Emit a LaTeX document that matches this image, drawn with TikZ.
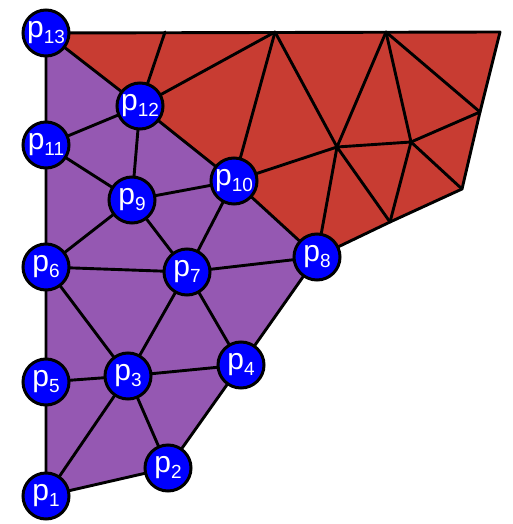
\documentclass[tikz,border=0pt]{standalone}
\usepackage{fontspec}
\setmainfont{Liberation Sans}
\newcommand\plab[1]{p\raisebox{-6pt}{\fontsize{19}{19}\selectfont #1}}
\definecolor{meshpurple}{RGB}{149,88,178}
\definecolor{meshred}{RGB}{200,60,50}
\begin{document}
\begin{tikzpicture}[x=1pt,y=-1pt,
  vtx/.style={circle, fill=blue, draw=black, line width=3pt, minimum size=46pt, inner sep=0pt,
    text=white, font=\fontsize{30}{30}\selectfont},
  edge/.style={draw=black, line width=2.9pt, line cap=round, line join=round}]
\useasboundingbox (0,0) rectangle (513,524);
% vertex positions
\coordinate (c13) at (46,33);
\coordinate (c12) at (140,106);
\coordinate (c11) at (46,145);
\coordinate (c10) at (234,181);
\coordinate (c9) at (132,200);
\coordinate (c8) at (317,257);
\coordinate (c7) at (187,272);
\coordinate (c6) at (46,267);
\coordinate (c5) at (46,382);
\coordinate (c4) at (241,365);
\coordinate (c3) at (128,376);
\coordinate (c2) at (168,468);
\coordinate (c1) at (46,496);
% red mesh vertices
\coordinate (A) at (165,32);
\coordinate (B) at (275,32);
\coordinate (C) at (386,32);
\coordinate (R) at (500,32);
\coordinate (D) at (480,112);
\coordinate (E) at (462,189);
\coordinate (F) at (337,147);
\coordinate (G) at (411,142);
\coordinate (H) at (390,222);
% fills
\fill[meshred] (c13) -- (R) -- (E) -- (c8) -- (c10) -- (c12) -- cycle;
\fill[meshpurple] (c13) -- (c12) -- (c10) -- (c8) -- (c4) -- (c2) -- (c1) -- (c5) -- (c6) -- (c11) -- cycle;
% red edges
\draw[edge] (c13) -- (R) -- (D) -- (E) -- (H) -- (c8);
\draw[edge] (A) -- (c12);
\draw[edge] (B) -- (c12);
\draw[edge] (B) -- (c10);
\draw[edge] (B) -- (F);
\draw[edge] (C) -- (F);
\draw[edge] (C) -- (G);
\draw[edge] (C) -- (D);
\draw[edge] (D) -- (G);
\draw[edge] (G) -- (F);
\draw[edge] (G) -- (E);
\draw[edge] (G) -- (H);
\draw[edge] (F) -- (c10);
\draw[edge] (F) -- (c8);
\draw[edge] (F) -- (H);
% purple edges
\draw[edge] (c13) -- (c11) -- (c6) -- (c5) -- (c1) -- (c2) -- (c4) -- (c8) -- (c10) -- (c12) -- (c13);
\draw[edge] (c11) -- (c12);
\draw[edge] (c12) -- (c9);
\draw[edge] (c11) -- (c9);
\draw[edge] (c9) -- (c10);
\draw[edge] (c9) -- (c6);
\draw[edge] (c9) -- (c7);
\draw[edge] (c10) -- (c7);
\draw[edge] (c7) -- (c8);
\draw[edge] (c6) -- (c7);
\draw[edge] (c6) -- (c3);
\draw[edge] (c7) -- (c3);
\draw[edge] (c7) -- (c4);
\draw[edge] (c3) -- (c4);
\draw[edge] (c3) -- (c5);
\draw[edge] (c3) -- (c1);
\draw[edge] (c3) -- (c2);
% nodes
\node[vtx] (p13) at (c13) {\plab{13}};
\node[vtx] (p12) at (c12) {\plab{12}};
\node[vtx] (p11) at (c11) {\plab{11}};
\node[vtx] (p10) at (c10) {\plab{10}};
\node[vtx] (p9) at (c9) {\plab{9}};
\node[vtx] (p8) at (c8) {\plab{8}};
\node[vtx] (p7) at (c7) {\plab{7}};
\node[vtx] (p6) at (c6) {\plab{6}};
\node[vtx] (p5) at (c5) {\plab{5}};
\node[vtx] (p4) at (c4) {\plab{4}};
\node[vtx] (p3) at (c3) {\plab{3}};
\node[vtx] (p2) at (c2) {\plab{2}};
\node[vtx] (p1) at (c1) {\plab{1}};
\end{tikzpicture}
\end{document}
